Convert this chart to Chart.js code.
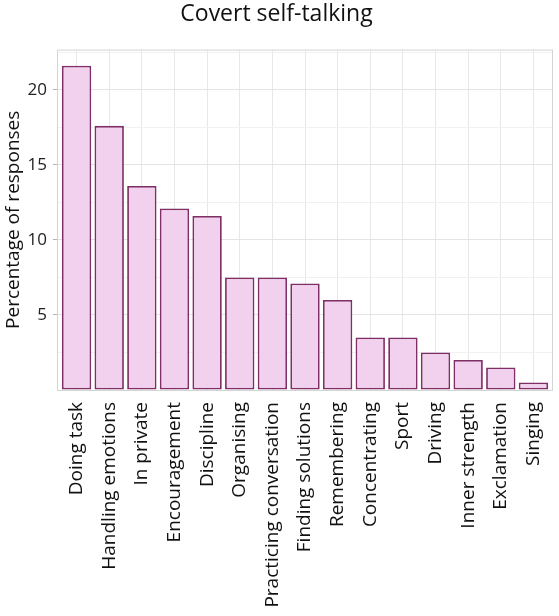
<!DOCTYPE html>
<html>
<head>
<meta charset="utf-8">
<script src="https://cdn.jsdelivr.net/npm/chart.js@4"></script>
<style>
  body { margin: 0; background: #fff; }
  #wrap { width: 559px; height: 616px; }
</style>
</head>
<body>
<div id="wrap"><canvas id="selfTalkChart"></canvas></div>
<script>
// Kategorie a hodnoty
const categories = [
  "Doing task",
  "Handling emotions",
  "In private",
  "Encouragement",
  "Discipline",
  "Organising",
  "Practicing conversation",
  "Finding solutions",
  "Remembering",
  "Concentrating",
  "Sport",
  "Driving",
  "Inner strength",
  "Exclamation",
  "Singing",
];
const percentages = [21.6, 17.6, 13.6, 12.1, 11.6, 7.5, 7.5, 7.1, 6.0, 3.5, 3.5, 2.5, 2.0, 1.5, 0.5];
const yTickLabels = [5, 10, 15, 20];

const chartTitle = "Covert self-talking";
const yTitle = "Percentage of responses";

Chart.defaults.font.family = "'Open Sans', sans-serif";
Chart.defaults.color = "#1a1a1a";

// Rámeček panelu (jako v ggplot)
const panelBorder = {
  id: "panelBorder",
  beforeDatasetsDraw(chart) {
    const { ctx, chartArea } = chart;
    ctx.save();
    ctx.strokeStyle = "#d4d4d4";
    ctx.lineWidth = 1;
    ctx.strokeRect(chartArea.left + 0.5, chartArea.top + 0.5,
      chartArea.right - chartArea.left - 1, chartArea.bottom - chartArea.top);
    ctx.restore();
  },
};

const isMajor = (v) => yTickLabels.includes(v);

const ctx = document.getElementById("selfTalkChart").getContext("2d");
new Chart(ctx, {
  type: "bar",
  data: {
    datasets: [
      {
        data: percentages.map((v, i) => ({ x: i, y: v })),
        backgroundColor: "#f1d1ee",
        borderColor: "#7f2f66",
        borderWidth: 1.8,
        borderSkipped: false,
        barPercentage: 0.9,
        categoryPercentage: 1,
      },
    ],
  },
  options: {
    responsive: true,
    maintainAspectRatio: false,
    animation: false,
    layout: { padding: { left: 0, right: 6, top: 0, bottom: 0 } },
    plugins: {
      legend: { display: false },
      tooltip: { enabled: false },
      title: {
        display: true,
        text: chartTitle,
        color: "#111",
        font: { size: 23, weight: "normal" },
        padding: { top: 1, bottom: 21 },
      },
    },
    scales: {
      x: {
        type: "linear",
        offset: false,
        min: -0.6,
        max: 14.6,
        afterBuildTicks: (s) => {
          s.ticks = categories.map((_, i) => ({ value: i }));
        },
        afterFit: (s) => {
          s.height = 226;
          s.paddingLeft = 0;
          s.paddingRight = 0;
        },
        grid: {
          offset: false,
          color: "#e8e8e8",
          tickLength: 4,
          tickColor: "transparent",
        },
        border: { display: false },
        ticks: {
          autoSkip: false,
          maxRotation: 90,
          minRotation: 90,
          padding: 8,
          color: "#111",
          font: { size: 19 },
          callback: (v) => categories[v],
        },
      },
      y: {
        min: 0,
        max: 22.68,
        afterFit: (s) => {
          s.width = 57;
          s.paddingTop = 0;
          s.paddingBottom = 0;
        },
        grid: {
          color: (c) => (c.tick && isMajor(c.tick.value) ? "#e4e4e4" : "#f1f1f1"),
          tickLength: 4,
          tickColor: (c) => (c.tick && isMajor(c.tick.value) ? "#b3b3b3" : "transparent"),
        },
        border: { display: false },
        ticks: {
          stepSize: 2.5,
          includeBounds: false,
          autoSkip: false,
          padding: 6,
          color: "#222",
          font: { size: 17 },
          callback: (v) => (isMajor(v) ? v : ""),
        },
        title: {
          display: true,
          text: yTitle,
          color: "#111",
          font: { size: 19 },
          padding: { top: 2, bottom: 0 },
        },
      },
    },
  },
  plugins: [panelBorder],
});
</script>
</body>
</html>
